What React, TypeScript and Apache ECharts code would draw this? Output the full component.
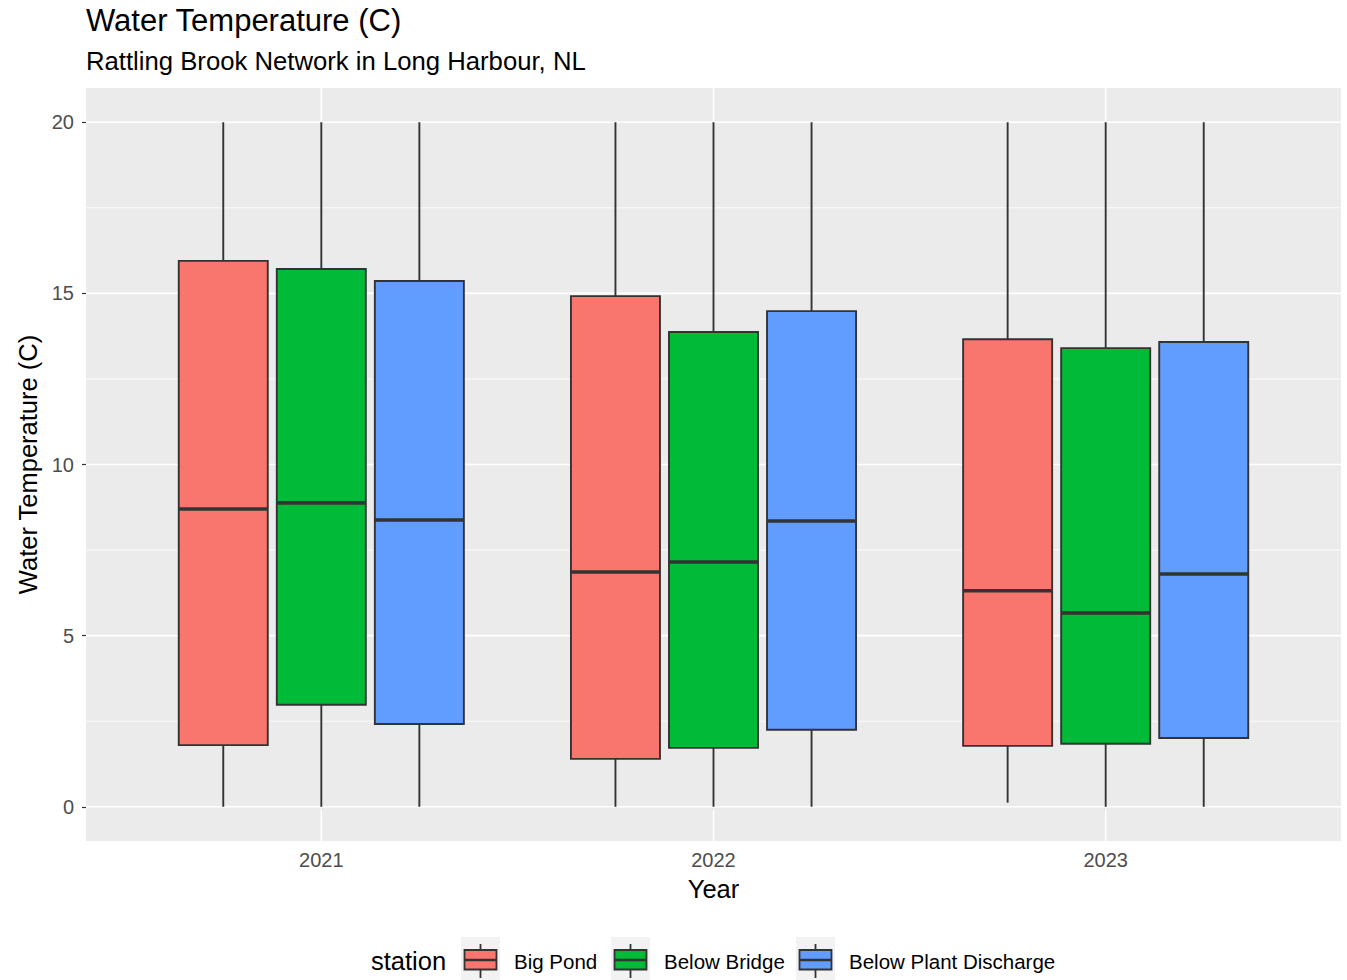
import React, { useEffect, useRef } from "react";
import * as echarts from "echarts";

const years = ["2021", "2022", "2023"];
const stations = ["Big Pond", "Below Bridge", "Below Plant Discharge"];
const colors = ["#F8766D", "#00BA38", "#619CFF"];
// [min, q1, median, q3, max] per year
const bigPond = [
  [0, 1.8, 8.7, 15.95, 20],
  [0, 1.4, 6.86, 14.92, 20],
  [0.12, 1.78, 6.31, 13.66, 20],
];
const belowBridge = [
  [0, 2.98, 8.88, 15.71, 20],
  [0, 1.72, 7.15, 13.87, 20],
  [0, 1.84, 5.66, 13.4, 20],
];
const belowPlant = [
  [0, 2.42, 8.38, 15.36, 20],
  [0, 2.25, 8.35, 14.48, 20],
  [0, 2.01, 6.8, 13.58, 20],
];
const yTicks = [0, 5, 10, 15, 20];
const yMinor = [2.5, 7.5, 12.5, 17.5];

const seriesData = [bigPond, belowBridge, belowPlant];
const FONT = "Arial, 'Liberation Sans', sans-serif";

export default function App() {
  const ref = useRef<HTMLDivElement>(null);
  useEffect(() => {
    const chart = echarts.init(ref.current!, null, { renderer: "svg" });
    const dodge = 0.25;
    const boxW = 0.227;
    const gridData: any[] = [];
    yTicks.forEach((v) => gridData.push([v, "hmajor"]));
    yMinor.forEach((v) => gridData.push([v, "hminor"]));
    years.forEach((_, i) => gridData.push([i + 1, "vmajor"]));

    const boxSeries = seriesData.map((arr, s) => ({
      type: "custom",
      name: stations[s],
      z: 3,
      data: arr.map((d, i) => [i + 1, ...d]),
      renderItem: (params: any, api: any) => {
        const xc = api.value(0) + (s - 1) * dodge;
        const vmin = api.value(1), q1 = api.value(2), med = api.value(3), q3 = api.value(4), vmax = api.value(5);
        const c = api.coord([xc, 0])[0];
        const w = api.size([boxW, 0])[0];
        const yMin = api.coord([xc, vmin])[1];
        const yQ1 = api.coord([xc, q1])[1];
        const yMed = api.coord([xc, med])[1];
        const yQ3 = api.coord([xc, q3])[1];
        const yMax = api.coord([xc, vmax])[1];
        const stroke = "#333333";
        return {
          type: "group",
          children: [
            { type: "line", shape: { x1: c, y1: yMax, x2: c, y2: yQ3 }, style: { stroke, lineWidth: 1.9 } },
            { type: "line", shape: { x1: c, y1: yQ1, x2: c, y2: yMin }, style: { stroke, lineWidth: 1.9 } },
            { type: "rect", shape: { x: c - w / 2, y: yQ3, width: w, height: yQ1 - yQ3 }, style: { fill: colors[s], stroke, lineWidth: 1.9 } },
            { type: "line", shape: { x1: c - w / 2, y1: yMed, x2: c + w / 2, y2: yMed }, style: { stroke, lineWidth: 3.6 } },
          ],
        };
      },
    }));

    const graphics: any[] = [];
    graphics.push({
      type: "text", x: 86, y: 20,
      style: { text: "Water Temperature (C)", fontSize: 31, fontFamily: FONT, fill: "#000", verticalAlign: "middle", align: "left" },
    });
    graphics.push({
      type: "text", x: 86, y: 60.5,
      style: { text: "Rattling Brook Network in Long Harbour, NL", fontSize: 25.7, fontFamily: FONT, fill: "#000", verticalAlign: "middle", align: "left" },
    });
    graphics.push({
      type: "text", x: 371, y: 961,
      style: { text: "station", fontSize: 25.5, fontFamily: FONT, fill: "#000", verticalAlign: "middle", align: "left" },
    });
    const keyX = [461, 611, 796];
    stations.forEach((name, s) => {
      const kx = keyX[s];
      graphics.push({ type: "rect", shape: { x: kx, y: 937, width: 39, height: 48 }, style: { fill: "#F2F2F2" } });
      graphics.push({ type: "line", shape: { x1: kx + 19.5, y1: 944, x2: kx + 19.5, y2: 978 }, style: { stroke: "#333", lineWidth: 1.8 } });
      graphics.push({ type: "rect", shape: { x: kx + 3.5, y: 950, width: 32, height: 19.5 }, style: { fill: colors[s], stroke: "#333", lineWidth: 1.8 } });
      graphics.push({ type: "line", shape: { x1: kx + 3.5, y1: 960, x2: kx + 35.5, y2: 960 }, style: { stroke: "#333", lineWidth: 2.4 } });
      graphics.push({
        type: "text", x: kx + 53, y: 961,
        style: { text: name, fontSize: 20.5, fontFamily: FONT, fill: "#000", verticalAlign: "middle", align: "left" },
      });
    });

    chart.setOption({
      animation: false,
      textStyle: { fontFamily: FONT },
      grid: { left: 86, right: 6, top: 88, bottom: 139, show: true, backgroundColor: "#EBEBEB", borderWidth: 0 },
      xAxis: {
        type: "value", min: 0.4, max: 3.6,
        name: "Year", nameLocation: "middle", nameGap: 35,
        nameTextStyle: { fontSize: 25.5, color: "#000" },
        axisLine: { show: false },
        splitLine: { show: false },
        axisTick: { show: true, length: 4, lineStyle: { color: "#333", width: 1.2 }, customValues: [1, 2, 3] },
        axisLabel: {
          customValues: [1, 2, 3], color: "#4D4D4D", fontSize: 20, margin: 9,
          formatter: (v: number) => years[Math.round(v) - 1] ?? "",
        },
      },
      yAxis: {
        type: "value", min: -1, max: 21,
        name: "Water Temperature (C)", nameLocation: "middle", nameGap: 41,
        nameTextStyle: { fontSize: 25.5, color: "#000" },
        axisLine: { show: false },
        splitLine: { show: false },
        axisTick: { show: true, length: 4, lineStyle: { color: "#333", width: 1.2 }, customValues: yTicks },
        axisLabel: { customValues: yTicks, color: "#4D4D4D", fontSize: 20, margin: 12 },
      },
      graphic: graphics,
      series: [
        {
          type: "custom",
          z: 1,
          silent: true,
          data: gridData,
          renderItem: (params: any, api: any) => {
            const v = api.value(0);
            const kind = gridData[params.dataIndex][1];
            if (kind === "vmajor") {
              const p1 = api.coord([v, -1]);
              const p2 = api.coord([v, 21]);
              return { type: "line", shape: { x1: p1[0], y1: p1[1], x2: p2[0], y2: p2[1] }, style: { stroke: "#FFFFFF", lineWidth: 1.6 } };
            }
            const p1 = api.coord([0.4, v]);
            const p2 = api.coord([3.6, v]);
            return {
              type: "line",
              shape: { x1: p1[0], y1: p1[1], x2: p2[0], y2: p2[1] },
              style: { stroke: "#FFFFFF", lineWidth: kind === "hmajor" ? 1.6 : 0.8 },
            };
          },
        },
        ...boxSeries,
      ],
    });
    return () => chart.dispose();
  }, []);
  return <div ref={ref} style={{ width: 1347, height: 980, position: "absolute", left: 0, top: 0 }} />;
}
